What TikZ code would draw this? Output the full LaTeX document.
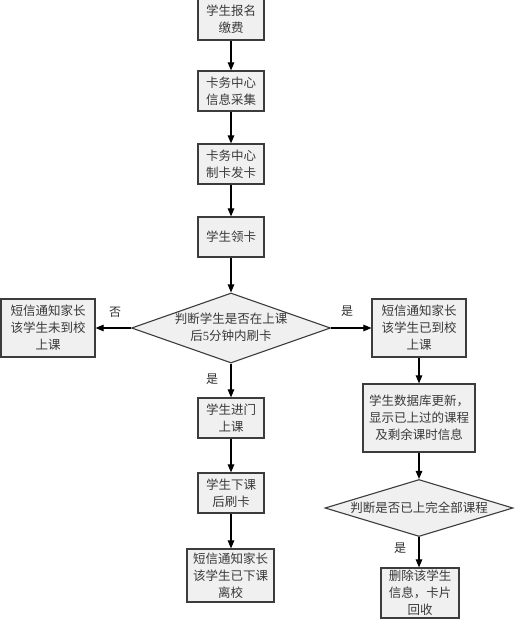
\documentclass[tikz,border=0pt]{standalone}
\usepackage{fontspec}
\setmainfont{Liberation Serif}
\newfontfamily\cjk{Noto Sans CJK SC}
\usetikzlibrary{shapes.geometric,arrows.meta}
\definecolor{boxfill}{HTML}{F0F0F0}
\definecolor{boxline}{HTML}{3C3C3C}
\definecolor{txt}{HTML}{3A3A3A}
\tikzset{
  procbox/.style={draw=boxline, line width=1.2pt, fill=boxfill, inner sep=0pt,
    align=center, text=txt, font=\fontsize{12.5}{17}\selectfont\cjk},
  decbox/.style={draw=boxline, line width=1.1pt, fill=boxfill, diamond, inner sep=0pt},
  dectext/.style={inner sep=0pt, align=center, text=txt, font=\fontsize{12.5}{17}\selectfont\cjk},
  lbl/.style={inner sep=0pt, text=txt!80!black, font=\fontsize{12}{14}\selectfont\cjk},
  arr/.style={draw=black, line width=1.1pt, -{Triangle[length=8pt,width=6.5pt]}},
}
\begin{document}
\begin{tikzpicture}[x=1pt,y=1pt]
\useasboundingbox (0,0) rectangle (517,-620);
\begin{scope}
\clip (0,0) rectangle (517,-620);
\node[procbox, minimum width=66, minimum height=42] (b1) at (231,-19) {学生报名\\缴费};
\node[procbox, minimum width=66, minimum height=40] (b2) at (231,-91) {卡务中心\\信息采集};
\node[procbox, minimum width=66, minimum height=40] (b3) at (231,-164) {卡务中心\\制卡发卡};
\node[procbox, minimum width=66, minimum height=40] (b4) at (231,-237) {学生领卡};
\node[decbox, minimum width=199, minimum height=70] (d1) at (231,-328) {};
\node[dectext] (d1t) at (231,-327) {判断学生是否在上课\\{\cjk 后}\rmfamily 5{\cjk 分钟内刷卡}};
\node[procbox, minimum width=94, minimum height=58] (L) at (48,-328) {短信通知家长\\该学生未到校\\上课};
\node[procbox, minimum width=94, minimum height=58] (R) at (419,-328) {短信通知家长\\该学生已到校\\上课};
\node[procbox, minimum width=66, minimum height=40] (b5) at (231,-418) {学生进门\\上课};
\node[procbox, minimum width=66, minimum height=40] (b6) at (231,-493) {学生下课\\后刷卡};
\node[procbox, minimum width=87, minimum height=53] (b7) at (230.5,-575.5) {短信通知家长\\该学生已下课\\离校};
\node[procbox, minimum width=112, minimum height=68] (r2) at (419,-418) {学生数据库更新，\\显示已上过的课程\\及剩余课时信息};
\node[decbox, minimum width=188, minimum height=57] (d2) at (419,-508) {};
\node[dectext] (d2t) at (419,-508) {判断是否已上完全部课程};
\node[procbox, minimum width=78, minimum height=50] (r3) at (420,-593) {删除该学生\\信息，卡片\\回收};
\node[lbl] (l1) at (115,-312) {否};
\node[lbl] (l2) at (347,-311) {是};
\node[lbl] (l3) at (212,-379) {是};
\node[lbl] (l4) at (400,-548) {是};
\draw[arr] (b1.south) -- (b2.north);
\draw[arr] (b2.south) -- (b3.north);
\draw[arr] (b3.south) -- (b4.north);
\draw[arr] (b4.south) -- (d1.north);
\draw[arr] (d1.west) -- (L.east);
\draw[arr] (d1.east) -- (R.west);
\draw[arr] (d1.south) -- (b5.north);
\draw[arr] (b5.south) -- (b6.north);
\draw[arr] (b6.south) -- (b7.north -| b6.south);
\draw[arr] (R.south) -- (r2.north);
\draw[arr] (r2.south) -- (d2.north);
\draw[arr] (d2.south) -- (d2.south |- r3.north);
\end{scope}
\end{tikzpicture}
\end{document}
